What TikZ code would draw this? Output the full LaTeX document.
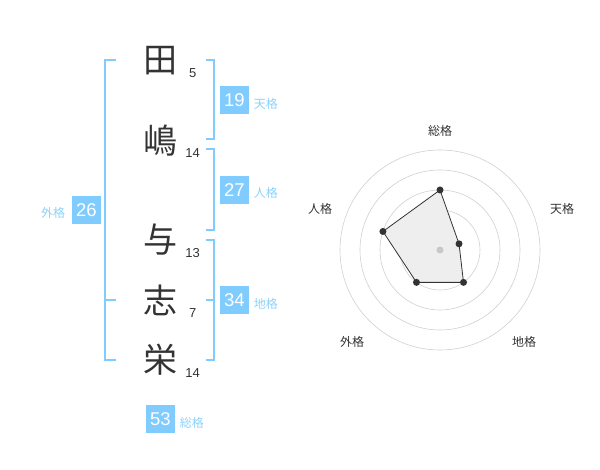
\documentclass[tikz,border=0pt]{standalone}
\usepackage{fontspec}
\setmainfont{Liberation Sans}
\newfontfamily\jpfont{Noto Sans CJK JP}
\usepackage{xcolor}
\usetikzlibrary{calc}
\definecolor{kakublue}{RGB}{128,204,255}
\definecolor{kakulabel}{RGB}{140,210,250}
\definecolor{inkgray}{RGB}{51,51,51}
\definecolor{ringgray}{RGB}{208,208,208}
\definecolor{areagray}{RGB}{238,238,238}
\definecolor{hubgray}{RGB}{200,200,200}
\begin{document}
\begin{tikzpicture}[x=1pt,y=1pt,yscale=-1,xscale=1,
  kanji/.style={font=\jpfont\fontsize{34}{34}\selectfont, text=inkgray, inner sep=0pt},
  stroke/.style={font=\fontsize{13}{13}\selectfont, text=inkgray, inner sep=0.75pt},
  numbox/.style={fill=kakublue, text=white, minimum width=29, minimum height=28, inner sep=0pt, font=\fontsize{18.5}{18.5}\selectfont},
  kakulbl/.style={font=\jpfont\fontsize{12}{12}\selectfont, text=kakulabel, inner sep=0.75pt},
  bracket/.style={draw=kakublue, line width=2},
  ring/.style={draw=ringgray, line width=0.6},
  axislbl/.style={font=\jpfont\fontsize{12}{12}\selectfont, text=inkgray, inner sep=0.75pt},
  dot/.style={circle, fill=inkgray, inner sep=0pt, minimum size=7}
]
\useasboundingbox (0,0) rectangle (600,470);

% Name characters
\node [kanji] (c1) at (160,61) {田};
\node [kanji] (c2) at (160,141) {嶋};
\node [kanji] (c3) at (160,240) {与};
\node [kanji] (c4) at (160,300) {志};
\node [kanji] (c5) at (160,360) {栄};
% Stroke counts
\node [stroke] (s1) at (192.7,72.7) {5};
\node [stroke] (s2) at (192.7,152.7) {14};
\node [stroke] (s3) at (192.7,252.7) {13};
\node [stroke] (s4) at (192.7,313) {7};
\node [stroke] (s5) at (192.7,373) {14};

%Shape: Bracket (outer)
\draw [bracket] (116,60) -- (105.3,60) -- (105.3,360) -- (116,360) ;
\draw [bracket] (105.3,300) -- (116,300) ;
%Shape: Bracket (heaven)
\draw [bracket] (205.7,60) -- (214.3,60) -- (214.3,139.3) -- (205.7,139.3) ;
%Shape: Bracket (person)
\draw [bracket] (205.7,149.3) -- (214.3,149.3) -- (214.3,230) -- (205.7,230) ;
%Shape: Bracket (earth)
\draw [bracket] (205.7,240) -- (214.3,240) -- (214.3,360) -- (205.7,360) ;
\draw [bracket] (205.7,300) -- (214.3,300) ;

% Text Node
\node [numbox] (ten) at (234.5,100) {19};
\node [kakulbl, anchor=west] (tenlbl) at (253,104) {天格};
\node [numbox] (jin) at (234.5,190) {27};
\node [kakulbl, anchor=west] (jinlbl) at (253,193) {人格};
\node [numbox] (chi) at (234.5,300) {34};
\node [kakulbl, anchor=west] (chilbl) at (253,304) {地格};
\node [numbox] (gai) at (86.3,210) {26};
\node [kakulbl, anchor=east] (gailbl) at (66,213) {外格};
\node [numbox] (sou) at (160.5,419) {53};
\node [kakulbl, anchor=west] (soulbl) at (179,423) {総格};

% Radar chart
\coordinate (o) at (440,250);
\foreach \r in {20,40,60,80,100}
  \draw [ring] (o) circle [radius=\r];
\coordinate (psou) at ($(o)+(-90:60)$);
\coordinate (pten) at ($(o)+(-18:20)$);
\coordinate (pchi) at ($(o)+(54:40)$);
\coordinate (pgai) at ($(o)+(126:40)$);
\coordinate (pjin) at ($(o)+(198:60)$);
\draw [fill=areagray, draw=inkgray, line width=0.8] (psou) -- (pten) -- (pchi) -- (pgai) -- (pjin) -- cycle ;
\fill [hubgray] (o) circle [radius=3.5];
\foreach \p in {psou,pten,pchi,pgai,pjin}
  \node [dot] at (\p) {};

% Axis labels
\node [axislbl] (asou) at (440,131) {総格};
\node [axislbl] (aten) at (562,209) {天格};
\node [axislbl] (achi) at (524,342) {地格};
\node [axislbl] (agai) at (352,342) {外格};
\node [axislbl] (ajin) at (320,209) {人格};
\end{tikzpicture}
\end{document}
